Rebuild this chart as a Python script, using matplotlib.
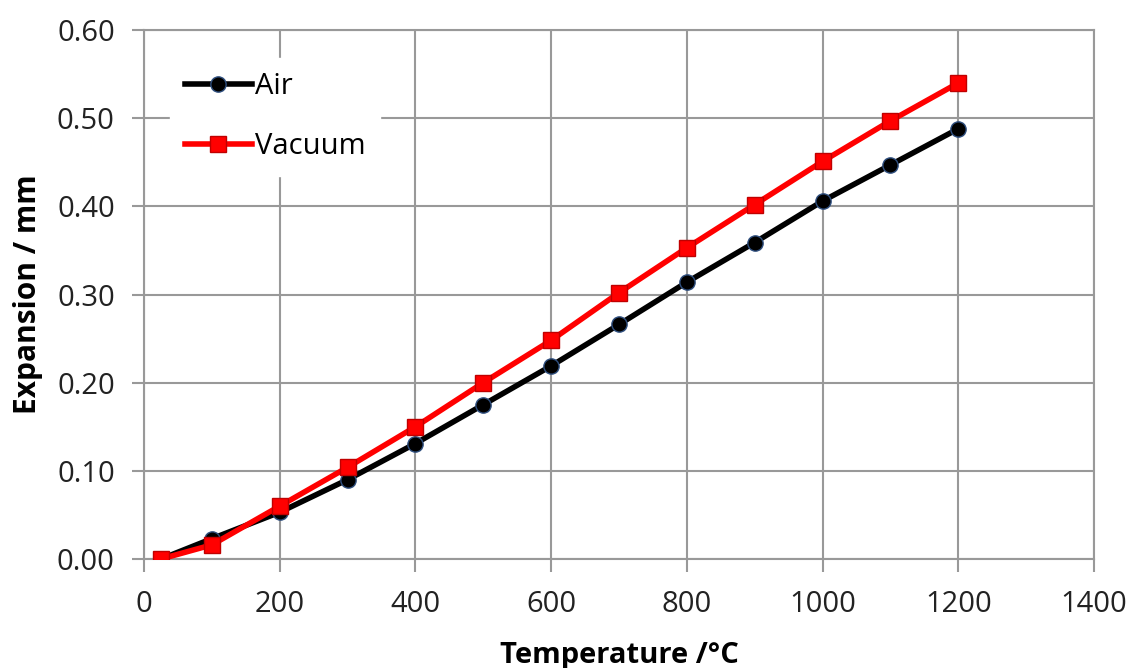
import numpy as np
import matplotlib
matplotlib.use("Agg")
import matplotlib.pyplot as plt

plt.rcParams['font.family'] = ['Open Sans', 'DejaVu Sans']

temp = [25, 100, 200, 300, 400, 500, 600, 700, 800, 900, 1000, 1100, 1200]
air = [0.0, 0.023, 0.053, 0.090, 0.131, 0.175, 0.219, 0.266, 0.314, 0.359, 0.406, 0.447, 0.488]
vacuum = [0.0, 0.016, 0.060, 0.104, 0.150, 0.200, 0.248, 0.302, 0.353, 0.402, 0.451, 0.497, 0.540]

fig = plt.figure(figsize=(11.32, 6.68), dpi=100)
ax = fig.add_axes([0.1272, 0.1632, 0.8392, 0.7918])

ax.plot(temp, air, color='black', lw=4, marker='o', ms=11,
        mfc='black', mec='#2f4f7f', mew=1, label='Air', zorder=3)
ax.plot(temp, vacuum, color='#ff0000', lw=4, marker='s', ms=12,
        mfc='#ff0000', mec='#c00000', mew=1, label='Vacuum', zorder=4)

ax.set_xlim(0, 1400)
ax.set_ylim(0, 0.60)
ax.set_xticks(np.arange(0, 1401, 200))
ax.set_yticks(np.arange(0, 0.61, 0.1))
ax.set_yticklabels(["%.2f" % v for v in np.arange(0, 0.61, 0.1)])
ax.grid(True, color='#999999', lw=1.5)
ax.set_axisbelow(True)
for s in ax.spines.values():
    s.set_color('#999999')
    s.set_linewidth(1.5)
ax.tick_params(axis='both', colors='#999999', length=9, width=1.5,
               labelsize=21, labelcolor='#222222')
ax.tick_params(axis='x', pad=13)
ax.tick_params(axis='y', pad=12)

ax.set_xlabel('Temperature /°C', fontsize=21, fontweight='bold', labelpad=16)
ax.set_ylabel('Expansion / mm', fontsize=21.5, fontweight='bold', labelpad=10)

# legend sits on a white box that hides the grid under it
leg = ax.legend(loc='upper left', bbox_to_anchor=(0.012, 0.975), fontsize=21,
                frameon=True, fancybox=False, edgecolor='white',
                facecolor='white', framealpha=1, handlelength=2.3,
                handletextpad=0.1, labelspacing=1.05, borderpad=0.5)

fig.savefig('out.png', dpi=100)
